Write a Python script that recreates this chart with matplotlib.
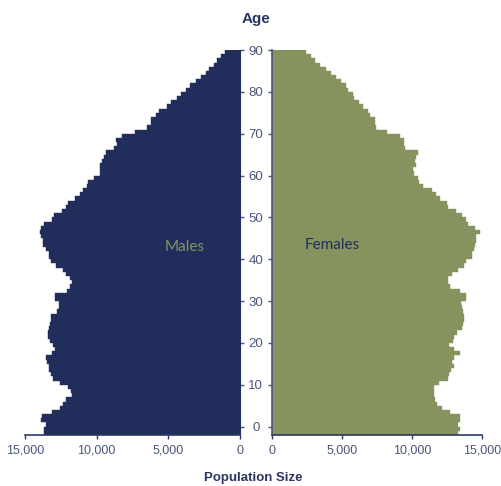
import numpy as np
import matplotlib
matplotlib.use("Agg")
import matplotlib.pyplot as plt

# population by single year of age, bottom bar first (92 rows, top row ends at the "90" tick)
ages = np.arange(0, 92)
male = [13680, 13680, 13560, 13890, 13820, 13120, 12560, 12330, 12170, 11750,
        11790, 11980, 12560, 13030, 13210, 13310, 13350, 13440, 13510, 13100,
        12930, 13030, 13260, 13380, 13380, 13310, 13260, 13170, 13170, 12750,
        12630, 12630, 12910, 12910, 12050, 11860, 11720, 11860, 12140, 12330,
        12840, 13210, 13330, 13330, 13560, 13750, 13720, 13860, 13960, 13890,
        13680, 13100, 12980, 12400, 12140, 12000, 11510, 11170, 10930, 10700,
        10610, 10190, 9770, 9770, 9770, 9630, 9490, 9350, 8790, 8610,
        8650, 8230, 7330, 6490, 6210, 6210, 5860, 5650, 5090, 4820,
        4420, 4120, 3790, 3490, 3070, 2720, 2370, 2160, 1840, 1630,
        1330, 1050]
female = [13260, 13410, 13260, 13410, 13410, 12710, 12120, 11760, 11640, 11550,
          11570, 11570, 11900, 12600, 12640, 12790, 13020, 12830, 13020, 13430,
          12980, 12620, 12950, 13020, 13240, 13550, 13620, 13710, 13710, 13670,
          13550, 13500, 13830, 13830, 13430, 12710, 12550, 12600, 12830, 13260,
          13710, 13860, 14260, 14290, 14430, 14500, 14550, 14550, 14830, 14500,
          13980, 13830, 13550, 13120, 12600, 12480, 12000, 11690, 11400, 10760,
          10520, 10450, 10120, 10070, 10260, 10210, 10260, 10400, 9520, 9450,
          9400, 9120, 8190, 7400, 7330, 7330, 7000, 6830, 6520, 6210,
          5860, 5760, 5450, 5260, 4930, 4550, 4190, 3830, 3430, 3070,
          2760, 2400]

xticks = [0, 5000, 10000, 15000]
xticklabels = ["0", "5,000", "10,000", "15,000"]
yticks = [0, 10, 20, 30, 40, 50, 60, 70, 80, 90]

navy = "#212e5c"
olive = "#86935e"
axcol = "#4b5679"
labcol = "#2a3562"

plt.rcParams["font.family"] = ["Liberation Sans Narrow", "Liberation Sans", "DejaVu Sans"]

fig = plt.figure(figsize=(5.02, 4.86), dpi=100)
W, H = 502, 486
axL = fig.add_axes([25 / W, 51 / H, 215 / W, 385 / H])
axR = fig.add_axes([272 / W, 51 / H, 210 / W, 385 / H])

axL.barh(ages - 2, male, height=1, align="edge", color=navy, edgecolor=navy, linewidth=0.3)
axR.barh(ages - 2, female, height=1, align="edge", color=olive, edgecolor=olive, linewidth=0.3)

axL.set_xlim(15000, 0)
axR.set_xlim(0, 15000)
for ax in (axL, axR):
    ax.set_ylim(-2, 90)
    ax.set_xticks(xticks)
    ax.set_xticklabels(xticklabels, color=axcol, fontsize=9)
    ax.set_yticks(yticks)
    ax.spines["top"].set_visible(False)
    ax.spines["bottom"].set_color("#2b3866")
    ax.spines["bottom"].set_linewidth(1.2)
    ax.tick_params(axis="x", direction="out", length=3, width=1, color="#2b3866", pad=4)
    ax.tick_params(axis="y", direction="out", length=3, width=1, color=axcol)

axL.spines["left"].set_visible(False)
axL.spines["right"].set_color(navy)
axL.yaxis.tick_right()
axL.set_yticklabels([])

axR.spines["right"].set_visible(False)
axR.spines["left"].set_color(axcol)
axR.spines["left"].set_linewidth(1.2)
axR.set_yticklabels([str(t) for t in yticks], color=axcol, fontsize=9.5)
axR.tick_params(axis="y", pad=8.6)
for lbl in axR.get_yticklabels():
    lbl.set_horizontalalignment("center")

fig.text(256 / W, 1 - 19 / H, "Age", ha="center", va="center",
         fontsize=11, fontweight="bold", color=labcol)
fig.text(253 / W, 1 - 478 / H, "Population Size", ha="center", va="center",
         fontsize=9.5, fontweight="bold", color=labcol)

axL.text(0.744, 0.489, "Males", transform=axL.transAxes, ha="center", va="center",
         fontsize=11, color=olive, family=["Lato", "DejaVu Sans"])
axR.text(0.288, 0.4935, "Females", transform=axR.transAxes, ha="center", va="center",
         fontsize=11, color=navy, family=["Lato", "DejaVu Sans"])

fig.savefig("out.png", dpi=100)
